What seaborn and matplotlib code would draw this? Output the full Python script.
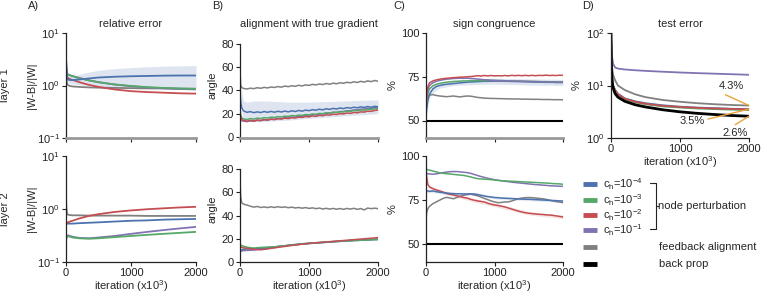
"""
node perturbation vs feedback alignment - 4 panel figure
"""
import matplotlib
matplotlib.use("Agg")
import matplotlib.pyplot as plt
import seaborn as sns
from matplotlib.ticker import NullLocator

# --- data ---
iters_s = [0, 5, 15, 30, 60, 100, 200, 350, 500, 750, 1000, 1250, 1500, 1750, 2000]
iters_n = [0, 10, 25, 50, 100, 150, 200, 250, 300, 350, 400,
           450, 500, 550, 600, 650, 700, 750, 800, 850, 900, 950,
           1000, 1050, 1100, 1150, 1200, 1250, 1300, 1350, 1400, 1450, 1500,
           1550, 1600, 1650, 1700, 1750, 1800, 1850, 1900, 1950, 2000]
iters_band = [0, 50, 100, 200, 400, 700, 1000, 1500, 2000]

# A) relative error |W-B|/|W|
relerr_l1 = {
    'gray':   [2.5, 1.4, 1.1, 1.02, 0.98, 0.96, 0.94, 0.92, 0.91, 0.9, 0.89, 0.88, 0.88, 0.87, 0.87],
    'purple': [3.5, 2.3, 1.75, 1.62, 1.57, 1.52, 1.4, 1.26, 1.16, 1.04, 0.97, 0.92, 0.88, 0.86, 0.84],
    'green':  [3.5, 2.2, 1.7, 1.6, 1.55, 1.5, 1.38, 1.25, 1.15, 1.05, 0.98, 0.93, 0.9, 0.88, 0.86],
    'red':    [3.0, 1.8, 1.45, 1.38, 1.33, 1.28, 1.16, 1.03, 0.94, 0.84, 0.78, 0.75, 0.73, 0.71, 0.70],
    'blue':   [3.5, 2.2, 1.5, 1.3, 1.27, 1.27, 1.3, 1.36, 1.42, 1.47, 1.5, 1.52, 1.54, 1.55, 1.55],
}
relerr_l1_blue_lo = [3.0, 1.9, 1.3, 1.15, 1.1, 1.07, 1.03, 1.0, 0.97, 0.95, 0.93, 0.92, 0.91, 0.9, 0.9]
relerr_l1_blue_hi = [4.0, 2.5, 1.7, 1.5, 1.48, 1.5, 1.62, 1.8, 1.95, 2.1, 2.2, 2.28, 2.33, 2.37, 2.4]
relerr_l2 = {
    'gray':   [1.8, 1.1, 0.82, 0.78, 0.77, 0.76, 0.76, 0.75, 0.75, 0.75, 0.75, 0.74, 0.74, 0.74, 0.74],
    'purple': [0.26, 0.28, 0.31, 0.32, 0.31, 0.3, 0.285, 0.28, 0.29, 0.31, 0.34, 0.37, 0.4, 0.43, 0.46],
    'green':  [0.26, 0.28, 0.3, 0.31, 0.3, 0.29, 0.28, 0.275, 0.28, 0.295, 0.31, 0.325, 0.34, 0.355, 0.37],
    'blue':   [0.55, 0.54, 0.53, 0.53, 0.53, 0.53, 0.54, 0.55, 0.56, 0.58, 0.6, 0.61, 0.63, 0.64, 0.65],
    'red':    [0.5, 0.52, 0.54, 0.56, 0.58, 0.6, 0.66, 0.74, 0.8, 0.88, 0.94, 0.99, 1.03, 1.07, 1.1],
}

# B) angle with true gradient
angle_l1 = {
    'gray': [57, 45, 42.5, 41.8, 41.3, 42.0, 41.6, 42.4, 41.9, 42.7, 42.2,
             43.0, 42.6, 43.4, 42.9, 43.8, 43.3, 44.1, 43.6, 44.5, 43.9, 44.8,
             44.4, 45.3, 44.8, 45.6, 45.1, 46.0, 45.4, 46.3, 45.8, 46.7, 46.2,
             47.1, 46.6, 47.5, 46.9, 47.9, 47.2, 48.3, 47.6, 48.6, 48.0],
    'purple': [20, 16, 14, 13.6, 13.2, 13.8, 13.5, 14.2, 14.0, 14.8, 14.6,
               15.3, 15.2, 15.9, 15.8, 16.5, 16.4, 17.1, 17.0, 17.7, 17.7, 18.4,
               18.4, 19.1, 19.1, 19.8, 19.8, 20.5, 20.5, 21.2, 21.2, 21.9, 21.9,
               22.6, 22.6, 23.3, 23.3, 24.0, 24.0, 24.7, 24.6, 25.2, 25.0],
    'green': [24, 19, 16.5, 15.6, 15.0, 15.8, 15.4, 16.2, 15.8, 16.6, 16.3,
              17.0, 16.8, 17.5, 17.2, 17.9, 17.7, 18.4, 18.1, 18.8, 18.6, 19.3,
              19.0, 19.8, 19.5, 20.3, 20.0, 20.8, 20.5, 21.3, 21.0, 21.8, 21.5,
              22.3, 22.0, 22.8, 22.5, 23.3, 23.0, 23.8, 23.6, 24.4, 24.2],
    'red': [22, 17, 15, 14.2, 13.6, 14.3, 13.8, 14.6, 14.1, 14.9, 14.5,
            15.3, 14.9, 15.7, 15.4, 16.2, 15.8, 16.6, 16.3, 17.1, 16.8, 17.6,
            17.3, 18.1, 17.8, 18.6, 18.3, 19.1, 18.8, 19.6, 19.3, 20.1, 19.8,
            20.6, 20.3, 21.1, 20.8, 21.6, 21.4, 22.2, 22.0, 22.8, 23.2],
    'blue': [38, 30, 25, 22.5, 21.2, 21.8, 20.9, 21.6, 21.0, 21.9, 21.2,
             22.0, 21.3, 22.1, 21.5, 22.3, 21.6, 22.5, 21.9, 22.8, 22.2, 23.1,
             22.6, 23.5, 23.0, 23.9, 23.3, 24.3, 23.7, 24.6, 24.0, 25.0, 24.4,
             25.3, 24.8, 25.6, 25.1, 25.9, 25.4, 26.2, 25.6, 26.4, 26.0],
}
angle_l1_blue_lo = [30, 15, 14, 13.5, 13.5, 14.5, 16, 18, 20]
angle_l1_blue_hi = [46, 31, 30, 31, 31, 30, 30, 31, 32]
angle_l2 = {
    'gray': [72, 56, 51, 49.8, 49.0, 48.0, 47.2, 47.8, 46.9, 47.4, 46.8,
             47.5, 46.9, 47.6, 47.0, 47.4, 46.7, 47.2, 46.5, 46.9, 46.3, 46.8,
             46.1, 46.6, 45.9, 46.4, 45.6, 46.2, 45.5, 46.1, 45.4, 46.0, 45.3,
             46.1, 45.5, 46.2, 45.3, 46.0, 44.8, 46.4, 45.9, 46.3, 45.9],
    'purple': [9, 9.2, 9.5, 9.8, 10.0, 10.1, 10.3, 10.6, 11.0, 11.4, 11.8,
               12.3, 12.7, 13.2, 13.6, 14.0, 14.4, 14.8, 15.1, 15.4, 15.7, 16.0,
               16.2, 16.4, 16.6, 16.8, 17.0, 17.2, 17.4, 17.6, 17.8, 18.0, 18.2,
               18.4, 18.6, 18.7, 18.9, 19.0, 19.2, 19.3, 19.5, 19.6, 19.8],
    'blue': [9.5, 10, 10.5, 11.0, 11.2, 11.3, 11.4, 11.6, 11.8, 12.1, 12.4,
             12.7, 13.0, 13.3, 13.6, 13.9, 14.2, 14.5, 14.8, 15.1, 15.4, 15.6,
             15.9, 16.1, 16.3, 16.5, 16.7, 16.9, 17.1, 17.3, 17.5, 17.7, 17.9,
             18.1, 18.2, 18.4, 18.5, 18.7, 18.8, 19.0, 19.1, 19.3, 19.4],
    'green': [15, 14.5, 14.2, 13.6, 12.8, 12.3, 12.0, 12.3, 12.5, 12.7, 12.8,
              13.0, 13.1, 13.4, 13.7, 14.0, 14.3, 14.6, 14.9, 15.2, 15.5, 15.8,
              16.0, 16.3, 16.5, 16.7, 16.9, 17.1, 17.3, 17.5, 17.7, 17.9, 18.0,
              18.2, 18.3, 18.5, 18.6, 18.8, 18.9, 19.0, 19.1, 19.2, 19.3],
    'red': [15, 13, 12.5, 12.2, 11.8, 11.3, 11.0, 10.8, 10.5, 10.9, 11.2,
            11.8, 12.1, 12.6, 13.0, 13.4, 13.9, 14.2, 14.6, 15.0, 15.3, 15.6,
            16.0, 16.2, 16.5, 16.7, 17.0, 17.2, 17.5, 17.7, 18.0, 18.2, 18.5,
            18.7, 19.0, 19.2, 19.5, 19.7, 20.0, 20.2, 20.5, 20.7, 21.0],
}

# C) sign congruence (%)
chance_level = 50
sign_l1 = {
    'gray': [52, 62, 63.5, 64.5, 64.8, 64.3, 64.0, 63.8, 63.6, 63.8, 64.0,
             63.7, 63.5, 63.8, 64.0, 63.9, 63.6, 63.2, 63.0, 62.8, 62.7, 62.6,
             62.6, 62.5, 62.5, 62.4, 62.4, 62.3, 62.3, 62.3, 62.2, 62.2, 62.2,
             62.1, 62.1, 62.1, 62.0, 62.0, 62.0, 61.9, 61.9, 61.9, 61.8],
    'blue': [53, 57, 61, 65, 68.0, 69.4, 70.0, 70.4, 70.7, 70.9, 71.1,
             71.3, 71.5, 71.7, 71.9, 72.0, 72.1, 72.2, 72.3, 72.4, 72.4, 72.5,
             72.5, 72.5, 72.5, 72.4, 72.4, 72.3, 72.3, 72.2, 72.2, 72.1, 72.1,
             72.0, 72.0, 71.9, 71.9, 71.8, 71.8, 71.8, 71.7, 71.7, 71.7],
    'green': [55, 61, 65, 68, 69.8, 70.7, 71.2, 71.6, 71.9, 72.1, 72.3,
              72.4, 72.5, 72.6, 72.6, 72.7, 72.7, 72.8, 72.8, 72.8, 72.9, 72.9,
              72.9, 72.8, 72.8, 72.7, 72.7, 72.6, 72.6, 72.5, 72.5, 72.4, 72.4,
              72.3, 72.3, 72.2, 72.2, 72.2, 72.1, 72.1, 72.0, 72.0, 72.0],
    'purple': [55, 63, 67, 70, 71.5, 72.4, 72.9, 73.3, 73.6, 73.8, 74.0,
               74.1, 74.2, 74.1, 74.2, 74.0, 73.9, 73.7, 73.5, 73.3, 73.2, 73.0,
               72.9, 72.8, 72.8, 72.7, 72.6, 72.6, 72.5, 72.5, 72.4, 72.4, 72.3,
               72.3, 72.2, 72.2, 72.1, 72.1, 72.0, 72.0, 72.0, 71.9, 71.9],
    'red': [55, 65, 69, 71.5, 72.6, 73.2, 73.6, 73.9, 74.1, 74.3, 74.5,
            74.6, 74.8, 74.8, 75.0, 75.1, 75.3, 75.6, 75.4, 75.7, 75.5, 75.7,
            75.5, 75.6, 75.5, 75.7, 75.5, 75.8, 75.6, 75.8, 75.6, 75.8, 75.6,
            75.8, 75.6, 75.8, 75.7, 75.9, 75.7, 75.8, 75.7, 75.9, 75.8],
}
sign_l1_blue_lo = [50, 63, 66, 68.5, 70, 70.5, 70.8, 70.3, 70.0]
sign_l1_blue_hi = [56, 67, 70, 71.5, 72.5, 73.8, 74.2, 73.8, 73.5]
sign_l2 = {
    'gray': [65, 68, 70, 71.5, 73, 74, 75, 76, 76.6, 76.2, 75.8,
             76.5, 77.2, 77.8, 78.2, 78.5, 78.0, 77.5, 76.8, 76.0, 75.3, 74.6,
             74.0, 73.6, 73.7, 74.0, 74.0, 74.5, 75.2, 75.8, 76.2, 76.4, 76.5,
             76.4, 76.2, 76.0, 75.8, 75.5, 75.0, 74.6, 74.2, 73.9, 73.6],
    'red': [93, 88, 84, 82.5, 81.5, 80.8, 80.2, 79.5, 78.8, 78.3, 78.0,
            77.5, 77.0, 76.5, 76.2, 75.5, 75.0, 74.6, 74.3, 74.0, 73.3, 72.7,
            72.3, 72.0, 71.6, 71.2, 70.6, 70.0, 69.4, 68.8, 68.3, 67.9, 67.6,
            67.4, 67.2, 67.0, 66.9, 66.7, 66.6, 66.4, 66.1, 65.8, 65.5],
    'blue': [80.0, 80.2, 80.3, 80.0, 80.2, 79.8, 79.5, 79.3, 79.0, 78.8, 78.7,
             78.6, 78.6, 78.5, 78.5, 78.6, 78.5, 78.2, 77.8, 77.4, 77.0, 76.8,
             76.5, 76.4, 76.2, 76.1, 76.0, 75.9, 75.8, 75.7, 75.6, 75.5, 75.5,
             75.4, 75.3, 75.2, 75.1, 75.0, 74.9, 74.8, 74.7, 74.6, 74.5],
    'purple': [89.5, 90.0, 90.0, 89.8, 89.7, 89.9, 90.2, 90.6, 90.9, 91.1, 91.2,
               91.2, 91.0, 90.8, 90.6, 90.2, 89.6, 89.0, 88.4, 87.9, 87.4, 87.0,
               86.6, 86.3, 86.0, 85.7, 85.5, 85.2, 85.0, 84.8, 84.6, 84.4, 84.2,
               84.0, 83.8, 83.7, 83.5, 83.4, 83.2, 83.1, 83.0, 82.9, 82.8],
    'green': [92, 92.5, 92.2, 92.0, 91.5, 91.0, 90.5, 90.2, 90.0, 89.8, 89.6,
              89.4, 89.2, 89.0, 88.6, 88.2, 87.6, 87.2, 87.0, 86.9, 86.8, 86.6,
              86.4, 86.2, 86.0, 85.9, 85.8, 85.7, 85.6, 85.5, 85.4, 85.3, 85.2,
              85.1, 85.0, 84.9, 84.8, 84.7, 84.6, 84.4, 84.3, 84.2, 84.0],
}
sign_l2_red_lo = [92, 81.5, 80.5, 79.2, 77.0, 74.0, 71.3, 66.6, 64.5]
sign_l2_red_hi = [94, 83.5, 82.5, 81.2, 79.0, 76.0, 73.3, 68.6, 66.5]
sign_l2_blue_lo = [79.2, 79.2, 79.4, 78.7, 77.9, 77.7, 75.7, 74.7, 73.7]
sign_l2_blue_hi = [80.8, 80.8, 81.0, 80.3, 79.5, 79.3, 77.3, 76.3, 75.3]

# D) test error (%)
test_err = {
    'purple': [100, 60, 35, 26, 22, 21, 20.2, 19.5, 19.0, 18.3, 17.7, 17.2, 16.8, 16.4, 16.0],
    'gray':   [100, 40, 22, 16, 12.5, 10, 8.2, 6.8, 6.0, 5.3, 4.9, 4.6, 4.4, 4.25, 4.15],
    'blue':   [100, 30, 14, 10, 8.2, 7.0, 5.7, 5.0, 4.6, 4.2, 3.95, 3.8, 3.7, 3.6, 3.55],
    'green':  [100, 30, 14, 10, 8.0, 6.8, 5.5, 4.8, 4.4, 4.0, 3.8, 3.65, 3.55, 3.47, 3.4],
    'red':    [100, 30, 14, 10, 8.0, 6.8, 5.6, 4.9, 4.5, 4.1, 3.9, 3.75, 3.65, 3.58, 3.5],
    'black':  [100, 25, 12, 9, 7.0, 6.0, 5.0, 4.3, 3.9, 3.45, 3.15, 2.95, 2.8, 2.68, 2.6],
}
final_labels = ['4.3%', '3.5%', '2.6%']
final_values = [4.15, 3.55, 2.6]

legend_labels = [r'c$_\mathrm{h}$=10$^{-4}$', r'c$_\mathrm{h}$=10$^{-3}$',
                 r'c$_\mathrm{h}$=10$^{-2}$', r'c$_\mathrm{h}$=10$^{-1}$']

colors = {'blue': '#4C72B0', 'green': '#55A868', 'red': '#C44E52',
          'purple': '#8172B2', 'gray': '#808080', 'black': '#000000'}
orange = '#E8A33D'

# --- style ---
sns.set_theme(style="ticks")
plt.rcParams['font.family'] = ['Liberation Sans', 'DejaVu Sans']
plt.rcParams['mathtext.fontset'] = 'custom'
plt.rcParams['mathtext.rm'] = 'Liberation Sans'
plt.rcParams['mathtext.it'] = 'Liberation Sans:italic'
plt.rcParams['font.size'] = 8
plt.rcParams['axes.labelsize'] = 8
plt.rcParams['axes.titlesize'] = 8
plt.rcParams['axes.linewidth'] = 0.9
plt.rcParams['xtick.labelsize'] = 8
plt.rcParams['ytick.labelsize'] = 8

W, H = 761, 293
fig = plt.figure(figsize=(W / 100, H / 100), dpi=100)


def add_ax(left, right, top, bottom):
    return fig.add_axes([left / W, 1 - bottom / H, (right - left) / W, (bottom - top) / H])


cols = [(66, 196), (240, 378), (426, 563), (611, 749)]
rows = [(33, 138), (156, 262)]


def style(ax, top_row, show_xlabels):
    sns.despine(ax=ax)
    ax.set_xlim(0, 2000)
    ax.set_xticks([0, 1000, 2000])
    ax.tick_params(length=3, width=0.8, pad=1.5, colors='#222222', labelsize=8)
    ax.spines['left'].set_color('#222222')
    if top_row and not show_xlabels:
        ax.spines['bottom'].set_color('#999999')
        ax.spines['bottom'].set_linewidth(2)
        ax.set_xticklabels([])
    else:
        ax.spines['bottom'].set_color('#222222')
        ax.set_xlabel(r'iteration (x10$^3$)', labelpad=0, fontsize=8)
    ax.yaxis.set_minor_locator(NullLocator())


def draw(ax, x, series, lw=1.3):
    for name, vals in series.items():
        sns.lineplot(x=x, y=vals, ax=ax, color=colors[name],
                     lw=2.0 if name == 'black' else lw, legend=False)


# A) relative error
for r, (series, lab) in enumerate([(relerr_l1, 'layer 1'), (relerr_l2, 'layer 2')]):
    ax = add_ax(*cols[0], *rows[r])
    ax.set_yscale('log')
    if r == 0:
        ax.fill_between(iters_s, relerr_l1_blue_lo, relerr_l1_blue_hi,
                        color=colors['blue'], alpha=0.18, lw=0)
    draw(ax, iters_s, series)
    ax.set_ylim(0.1, 10)
    ax.set_yticks([0.1, 1, 10])
    style(ax, r == 0, False)
    ax.set_ylabel('|W-B|/|W|', fontsize=8)
    ax.yaxis.set_label_coords(-0.225, 0.5)
    if r == 0:
        ax.set_title('relative error', fontsize=8, pad=4)
    fig.text(5.5 / W, 1 - (85 if r == 0 else 209) / H, lab,
             rotation=90, ha='center', va='center', fontsize=8)

# B) alignment with true gradient
for r, series in enumerate([angle_l1, angle_l2]):
    ax = add_ax(*cols[1], *rows[r])
    if r == 0:
        ax.fill_between(iters_band, angle_l1_blue_lo, angle_l1_blue_hi,
                        color=colors['blue'], alpha=0.18, lw=0)
    draw(ax, iters_n, series, lw=1.1)
    ax.set_ylim(-0.9, 89.5) if r == 0 else ax.set_ylim(0, 91.2)
    ax.set_yticks([0, 20, 40, 60, 80])
    style(ax, r == 0, False)
    ax.spines['left'].set_bounds(0, 80)
    ax.set_ylabel('angle', fontsize=8)
    ax.yaxis.set_label_coords(-0.16, 0.5)
    if r == 0:
        ax.set_title('alignment with true gradient', fontsize=8, pad=4)

# C) sign congruence
for r, series in enumerate([sign_l1, sign_l2]):
    ax = add_ax(*cols[2], *rows[r])
    if r == 0:
        ax.fill_between(iters_band, sign_l1_blue_lo, sign_l1_blue_hi,
                        color=colors['blue'], alpha=0.18, lw=0)
    else:
        ax.fill_between(iters_band, sign_l2_red_lo, sign_l2_red_hi,
                        color=colors['red'], alpha=0.15, lw=0)
        ax.fill_between(iters_band, sign_l2_blue_lo, sign_l2_blue_hi,
                        color=colors['blue'], alpha=0.15, lw=0)
    draw(ax, iters_n, series, lw=1.1)
    ax.axhline(chance_level, color='black', lw=1.5)
    ax.set_ylim(40, 100)
    ax.set_yticks([50, 75, 100])
    style(ax, r == 0, False)
    ax.set_ylabel('%', fontsize=8)
    ax.yaxis.set_label_coords(-0.205, 0.5)
    if r == 0:
        ax.set_title('sign congruence', fontsize=8, pad=4)

# D) test error
ax = add_ax(*cols[3], *rows[0])
ax.set_yscale('log')
draw(ax, iters_s, test_err)
ax.set_ylim(1, 100)
ax.set_yticks([1, 10, 100])
style(ax, True, True)
ax.set_ylabel('%', fontsize=8)
ax.yaxis.set_label_coords(-0.215, 0.5)
ax.set_title('test error', fontsize=8, pad=4)
text_pos = [(1739, 9.6), (1174, 2.12), (1797, 1.25)]
rel = [(0, 0), (1, 0.6), (0.3, 1)]
for lab, val, pos, rp in zip(final_labels, final_values, text_pos, rel):
    ax.annotate(lab, xy=(2000, val), xytext=pos, ha='center', va='center', fontsize=8,
                arrowprops=dict(arrowstyle='-', color=orange, lw=1.0, relpos=rp,
                                shrinkA=0, shrinkB=0))

# panel letters
for txt, x in zip(['A)', 'B)', 'C)', 'D)'], [28, 212, 393, 582]):
    fig.text(x / W, 1 - 6 / H, txt, ha='left', va='center', fontsize=8)

# --- legend (drawn by hand in pixel coords) ---
lg = fig.add_axes([0, 0, 1, 1])
lg.set_xlim(0, W)
lg.set_ylim(H, 0)
lg.axis('off')
key_rows = [184, 200, 215, 230]
for y, name, lab in zip(key_rows, ['blue', 'green', 'red', 'purple'], legend_labels):
    lg.plot([583, 597], [y, y], color=colors[name], lw=3.5, solid_capstyle='butt')
    lg.text(603, y, lab, ha='left', va='center', fontsize=8)
lg.plot([650, 656, 656, 650], [183, 183, 229, 229], color='#222222', lw=0.8)
lg.plot([656, 658], [206, 206], color='#222222', lw=0.8)
lg.text(658, 206, 'node perturbation', ha='left', va='center', fontsize=8)
for y, name, lab in zip([247, 264], ['gray', 'black'], ['feedback alignment', 'back prop']):
    lg.plot([583, 597], [y, y], color=colors[name], lw=3.5, solid_capstyle='butt')
    lg.text(659, y, lab, ha='left', va='center', fontsize=8)

plt.savefig('out.png', dpi=100)
plt.close()
